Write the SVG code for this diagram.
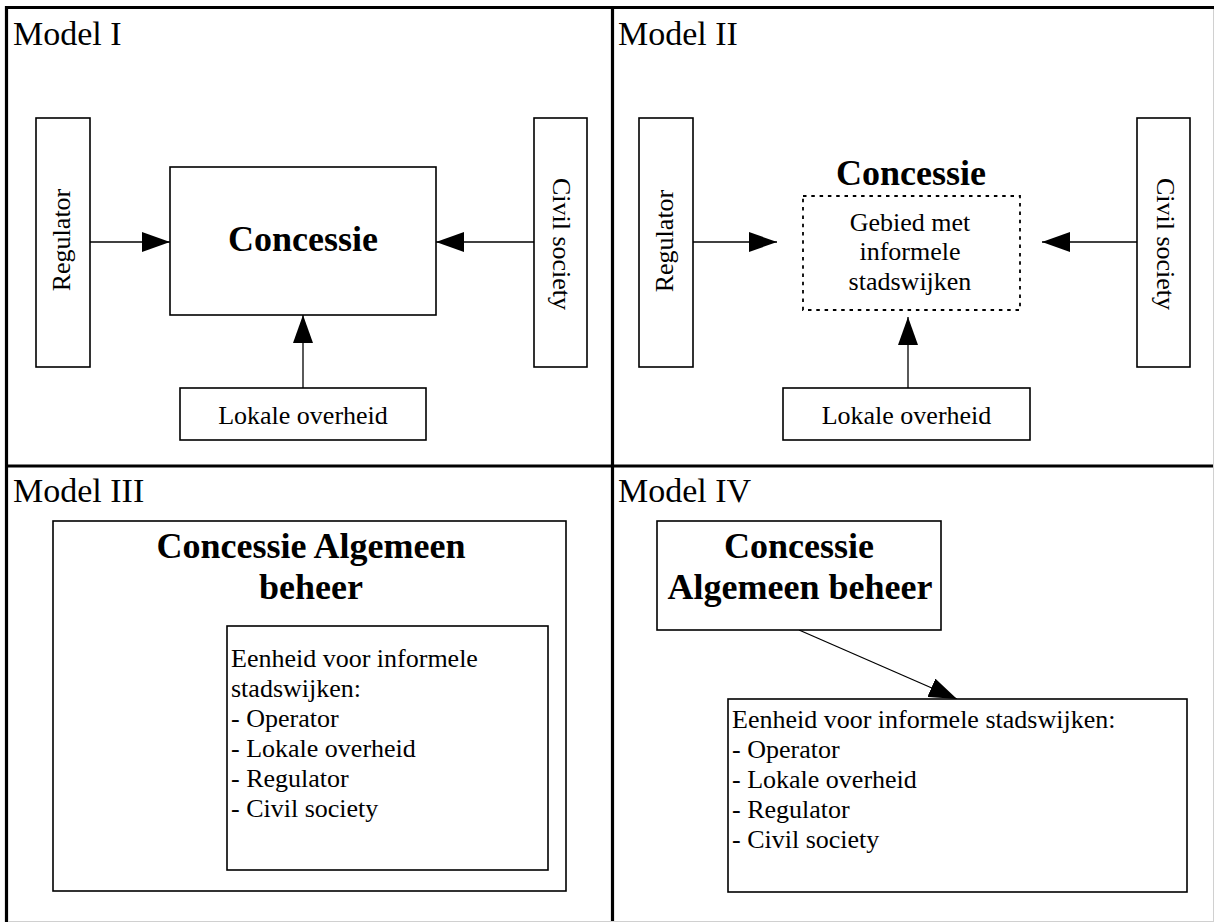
<svg xmlns="http://www.w3.org/2000/svg" width="1214" height="922" viewBox="0 0 1214 922">
<style>
.box{fill:#fff;stroke:#000;stroke-width:1.6}
.dot{fill:none;stroke:#000;stroke-width:1.8;stroke-dasharray:3.5 4.8}
.frame{stroke:#000;stroke-width:3.2;fill:none}
.edge{stroke:#000;stroke-width:1.3;fill:none;marker-end:url(#ah)}
.t{font-family:"Liberation Serif","Times New Roman",serif;font-size:26px;fill:#000}
.m{font-family:"Liberation Serif","Times New Roman",serif;font-size:34px;fill:#000}
.b{font-family:"Liberation Serif","Times New Roman",serif;font-size:36px;font-weight:bold;fill:#000;text-anchor:middle}
.c{text-anchor:middle}
</style>
<defs>
<marker id="ah" viewBox="0 0 28 20" refX="28" refY="10" markerWidth="28" markerHeight="20" markerUnits="userSpaceOnUse" orient="auto">
<path d="M0,0 L28,10 L0,20 z" fill="#000"/>
</marker>
</defs>
<rect x="0" y="0" width="1214" height="922" fill="#fff"/>
<g id="frame">
<line class="frame" x1="5" y1="7.5" x2="1214" y2="7.5"/>
<line class="frame" x1="6.5" y1="6" x2="6.5" y2="922"/>
<line class="frame" x1="612.5" y1="6" x2="612.5" y2="922"/>
<line class="frame" x1="5" y1="466" x2="1214" y2="466"/>
<line x1="1213.5" y1="9" x2="1213.5" y2="922" stroke="#d0d0d0" stroke-width="1"/>
<line x1="8" y1="921.5" x2="1214" y2="921.5" stroke="#d0d0d0" stroke-width="1"/>
</g>
<g id="labels">
<text class="m" x="13" y="45">Model I</text>
<text class="m" x="618" y="45">Model II</text>
<text class="m" x="13" y="502">Model III</text>
<text class="m" x="618" y="502">Model IV</text>
</g>
<g id="connectors">
<line class="edge" x1="90" y1="242" x2="170" y2="242"/>
<line class="edge" x1="534" y1="242" x2="436" y2="242"/>
<line class="edge" x1="303" y1="388" x2="303" y2="315"/>
<line class="edge" x1="693" y1="242" x2="777" y2="242"/>
<line class="edge" x1="1137" y1="242" x2="1042" y2="242"/>
<line class="edge" x1="908" y1="388" x2="908" y2="317"/>
<line class="edge" x1="799" y1="630" x2="957" y2="699"/>
</g>
<g id="m1-regulator">
<rect class="box" x="36" y="118" width="54" height="249"/>
<text class="t c" transform="translate(70,240) rotate(-90)">Regulator</text>
</g>
<g id="m1-concessie">
<rect class="box" x="170" y="167" width="266" height="148"/>
<text class="b" x="303" y="251">Concessie</text>
</g>
<g id="m1-civil">
<rect class="box" x="534" y="118" width="53" height="249"/>
<text class="t c" transform="translate(553,244) rotate(90)">Civil society</text>
</g>
<g id="m1-lokale">
<rect class="box" x="180" y="388" width="246" height="52"/>
<text class="t c" x="303" y="424">Lokale overheid</text>
</g>
<g id="m2-regulator">
<rect class="box" x="639" y="118" width="54" height="249"/>
<text class="t c" transform="translate(673,241) rotate(-90)">Regulator</text>
</g>
<g id="m2-concessie">
<text class="b" x="911" y="185">Concessie</text>
<rect class="dot" x="803" y="196" width="217" height="114"/>
<text class="t c" x="910" y="231">Gebied met</text>
<text class="t c" x="910" y="260">informele</text>
<text class="t c" x="910" y="290">stadswijken</text>
</g>
<g id="m2-civil">
<rect class="box" x="1137" y="118" width="53" height="249"/>
<text class="t c" transform="translate(1157,244) rotate(90)">Civil society</text>
</g>
<g id="m2-lokale">
<rect class="box" x="783" y="388" width="247" height="52"/>
<text class="t c" x="906.5" y="424">Lokale overheid</text>
</g>
<g id="m3-concessie">
<rect class="box" x="53" y="521" width="513" height="370"/>
<text class="b" x="311" y="558">Concessie Algemeen</text>
<text class="b" x="311" y="599">beheer</text>
</g>
<g id="m3-eenheid">
<rect class="box" x="227" y="626" width="321" height="244"/>
<text class="t" x="231" y="667">Eenheid voor informele</text>
<text class="t" x="231" y="697">stadswijken:</text>
<text class="t" x="231" y="727">- Operator</text>
<text class="t" x="231" y="757">- Lokale overheid</text>
<text class="t" x="231" y="787">- Regulator</text>
<text class="t" x="231" y="817">- Civil society</text>
</g>
<g id="m4-concessie">
<rect class="box" x="657" y="521" width="284" height="109"/>
<text class="b" x="799" y="558">Concessie</text>
<text class="b" x="800" y="599">Algemeen beheer</text>
</g>
<g id="m4-eenheid">
<rect class="box" x="728" y="699" width="459" height="193"/>
<text class="t" x="732" y="728">Eenheid voor informele stadswijken:</text>
<text class="t" x="732" y="758">- Operator</text>
<text class="t" x="732" y="788">- Lokale overheid</text>
<text class="t" x="732" y="818">- Regulator</text>
<text class="t" x="732" y="848">- Civil society</text>
</g>
</svg>
